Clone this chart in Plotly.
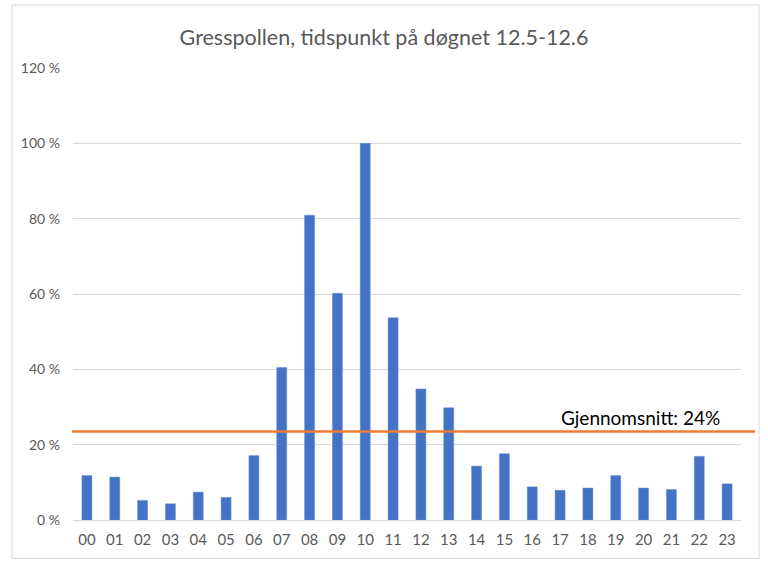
import plotly.graph_objects as go

hours = [f"{h:02d}" for h in range(24)]
values = [11.8, 11.4, 5.2, 4.3, 7.4, 6.0, 17.1, 40.5, 80.9, 60.2, 100.0, 53.7,
          34.8, 29.8, 14.3, 17.6, 8.8, 7.9, 8.5, 11.8, 8.5, 8.1, 16.9, 9.6]
average_value = 23.5
average_label = "Gjennomsnitt: 24%"
title_text = "Gresspollen, tidspunkt på døgnet 12.5-12.6"
y_ticks = [0, 20, 40, 60, 80, 100, 120]
y_ticktext = ["0 %", "20 %", "40 %", "60 %", "80 %", "100 %", "120 %"]

FONT = "Lato, Carlito, Liberation Sans, Arial"
L, R, T, B = 73, 27, 68, 47.5
W, H = 768, 568
pw = W - L - R
ph = H - T - B

def px_x(x):
    return (x - L) / pw

def px_y(y):
    return (H - B - y) / ph

fig = go.Figure()
fig.add_trace(go.Bar(
    x=hours, y=values,
    marker=dict(color="#4472C4", line=dict(color="#6a8fd6", width=0.5)),
    width=0.36,
))

fig.add_shape(type="line", xref="paper", yref="y",
              x0=px_x(72), x1=px_x(755), y0=average_value, y1=average_value,
              line=dict(color="#ED7D31", width=2.5), layer="above")

fig.add_annotation(xref="paper", yref="paper", x=px_x(640), y=px_y(418),
                   text=average_label, showarrow=False,
                   font=dict(family=FONT, size=19, color="#000000"),
                   xanchor="center", yanchor="middle")

fig.add_shape(type="rect", xref="paper", yref="paper",
              x0=px_x(12), x1=px_x(759), y0=px_y(559), y1=px_y(5),
              line=dict(color="#d9d9d9", width=1), fillcolor="rgba(0,0,0,0)", layer="below")

fig.update_layout(
    width=W, height=H,
    margin=dict(l=L, r=R, t=T, b=B),
    paper_bgcolor="white", plot_bgcolor="white",
    showlegend=False,
    title=dict(text=title_text, x=0.5, xref="container", xanchor="center",
               y=1 - 37 / H, yref="container", yanchor="middle",
               font=dict(family=FONT, size=21.5, color="#595959")),
    bargap=0.64,
    xaxis=dict(type="category", showgrid=False, showline=True, linecolor="#d9d9d9", linewidth=1,
               tickfont=dict(family=FONT, size=15, color="#595959"),
               ticks="", ticklabelstandoff=6, fixedrange=True),
    yaxis=dict(range=[0, 120], tickvals=y_ticks, ticktext=y_ticktext,
               showgrid=True, gridcolor="#d9d9d9", gridwidth=1, zeroline=False,
               tickfont=dict(family=FONT, size=14, color="#595959"),
               ticks="", ticklabelstandoff=12, fixedrange=True),
)

fig.write_html("out.html")
